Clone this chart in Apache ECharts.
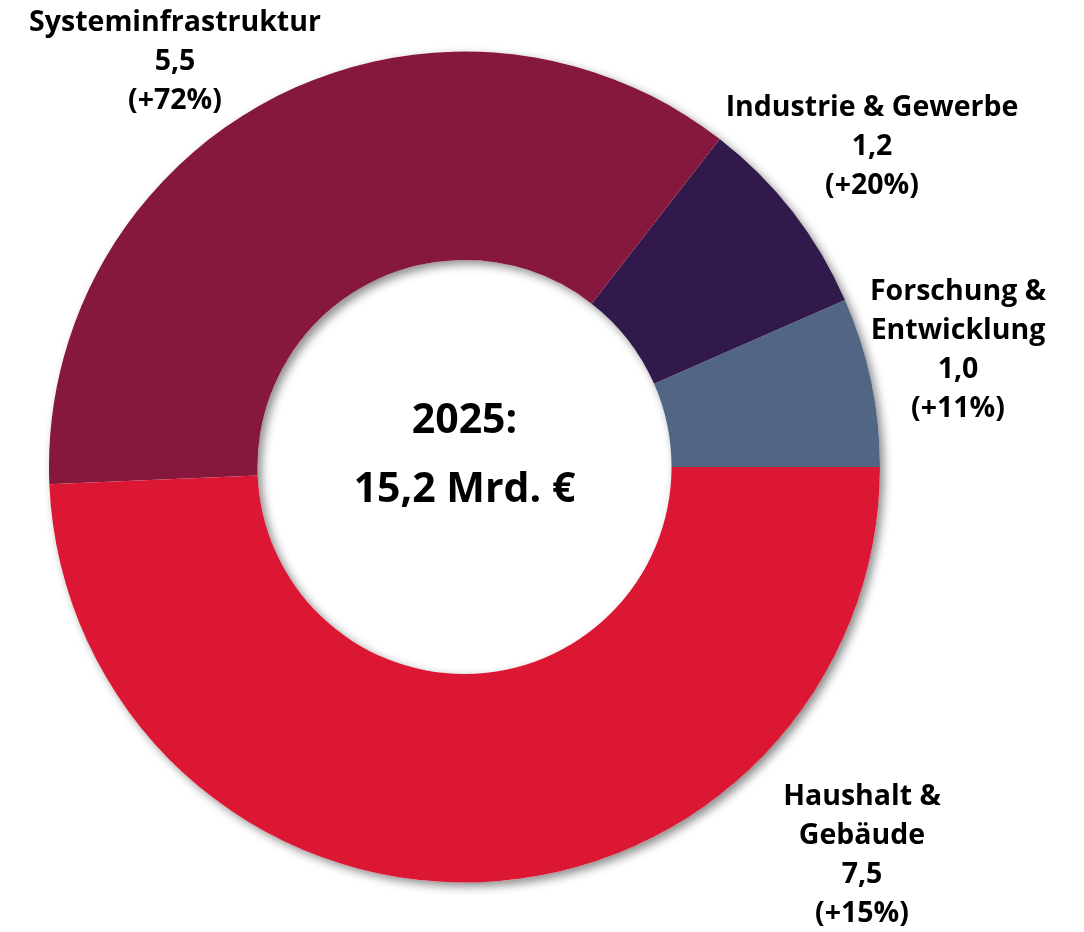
<!DOCTYPE html>
<html>
<head>
<meta charset="utf-8">
<script src="https://cdn.jsdelivr.net/npm/echarts@6/dist/echarts.min.js"></script>
<style>
  html, body { margin: 0; padding: 0; background: #fff; }
  #main { width: 1084px; height: 932px; }
</style>
</head>
<body>
<div id="main"></div>
<script>
// data, in drawing order (counter-clockwise from 3 o'clock)
var categories = ['Forschung &\nEntwicklung', 'Industrie & Gewerbe', 'Systeminfrastruktur', 'Haushalt &\nGebäude']
var values = [1.0, 1.2, 5.5, 7.5]
var changes = ['+11%', '+20%', '+72%', '+15%']
var colors = ['#506684', '#311a4b', '#86183d', '#dc1733']
var centerLines = ['2025:', '15,2 Mrd. €']

// label anchor points (px)
var labelPos = [[958, 350], [872, 147], [175, 62], [862, 855]]

var chart = echarts.init(document.getElementById('main'))
var font = '"Open Sans", "Noto Sans", sans-serif'

chart.setOption({
  animation: false,
  series: [
    {
      // white ring under the slices, only for the drop shadow
      type: 'pie',
      silent: true,
      center: [464.5, 467],
      radius: [207, 415.5],
      label: { show: false },
      labelLine: { show: false },
      itemStyle: {
        color: '#fff',
        shadowColor: 'rgba(0,0,0,0.45)',
        shadowBlur: 10,
        shadowOffsetX: 4,
        shadowOffsetY: 4
      },
      data: [{ value: 1 }]
    },
    {
      type: 'pie',
      center: [464.5, 467],
      radius: [207, 415.5],
      startAngle: 0,
      clockwise: false,
      label: {
        show: true,
        position: 'outside',
        overflow: 'none',
        fontFamily: font,
        fontWeight: 'bold',
        fontSize: 28.5,
        lineHeight: 39,
        color: '#000',
        align: 'center',
        formatter: function (p) {
          return categories[p.dataIndex] + '\n' +
            values[p.dataIndex].toFixed(1).replace('.', ',') + '\n(' +
            changes[p.dataIndex] + ')'
        }
      },
      labelLine: { show: false },
      labelLayout: function (p) {
        return {
          x: labelPos[p.dataIndex][0],
          y: labelPos[p.dataIndex][1],
          align: 'center',
          verticalAlign: 'middle',
          hideOverlap: false
        }
      },
      data: values.map(function (v, i) {
        return { name: categories[i], value: v, itemStyle: { color: colors[i] } }
      })
    }
  ],
  graphic: [
    {
      type: 'text',
      x: 464.5,
      y: 421,
      style: {
        text: centerLines[0],
        font: 'bold 41px ' + font,
        fill: '#000',
        align: 'center',
        verticalAlign: 'middle'
      }
    },
    {
      type: 'text',
      x: 464.5,
      y: 490,
      style: {
        text: centerLines[1],
        font: 'bold 41px ' + font,
        fill: '#000',
        align: 'center',
        verticalAlign: 'middle'
      }
    }
  ]
})
</script>
</body>
</html>
